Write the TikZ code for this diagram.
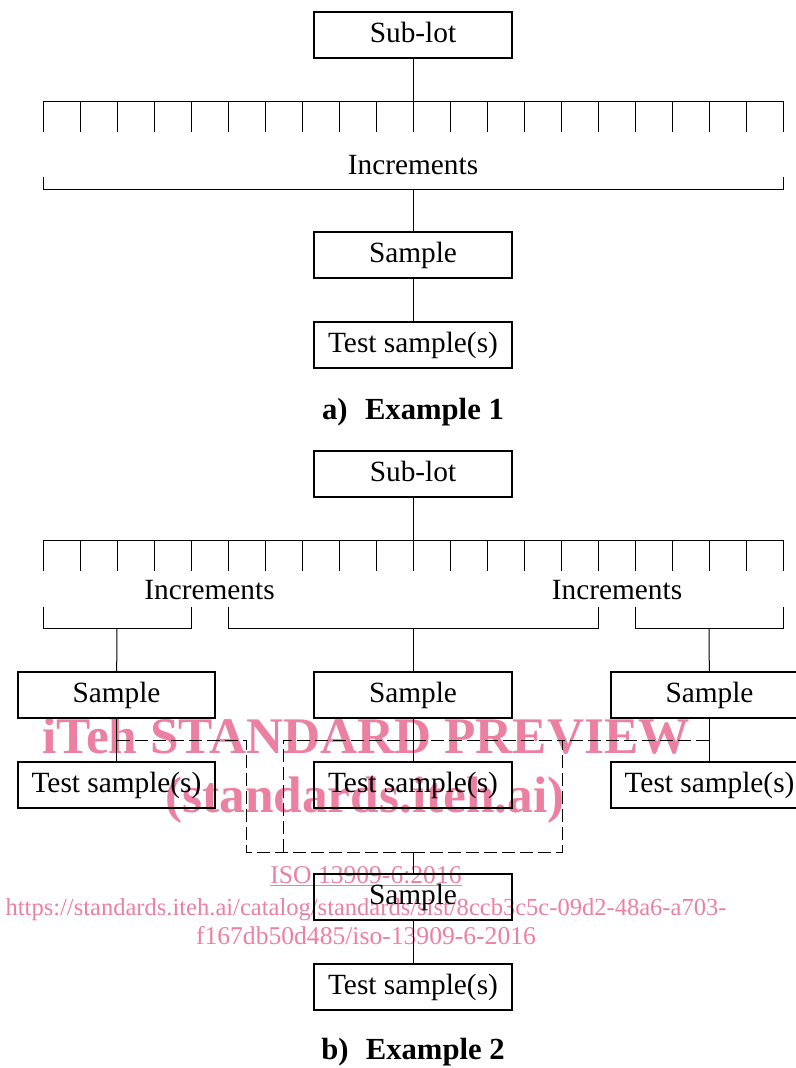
\documentclass[tikz,border=0pt]{standalone}
\usepackage{fontspec}
\setmainfont{Liberation Serif}
\usetikzlibrary{positioning}

\definecolor{wmpink}{RGB}{236,128,162}

\begin{document}
\begin{tikzpicture}[x=0.75pt,y=-0.75pt,line width=0.75pt,
                    font=\fontsize{22}{26}\selectfont]

  \tikzstyle{box}=[rectangle,draw,line width=1.5pt,inner sep=0pt,
                   minimum width=148pt,minimum height=34.5pt,
                   text height=15.5pt,text depth=4pt]
  \tikzstyle{caption}=[anchor=base,font=\fontsize{23}{27}\selectfont\bfseries]
  \tikzstyle{wmbig}=[anchor=base,text=wmpink,font=\fontsize{38.5}{40}\selectfont\bfseries]
  \tikzstyle{wmsmall}=[anchor=base,text=wmpink,font=\fontsize{19.2}{22}\selectfont]

  \useasboundingbox (0,0) rectangle (796,1068);

  % watermark
  \node[wmbig]   (wmA) at (366,753) {iTeh STANDARD PREVIEW};
  \node[wmbig]   (wmB) at (365,812) {(standards.iteh.ai)};
  \node[wmsmall] (wmC) at (366,883) {\underline{ISO 13909-6:2016}};
  \node[wmsmall,font=\fontsize{18.4}{22}\selectfont]
                 (wmD) at (366,915) {https://standards.iteh.ai/catalog/standards/sist/8ccb3c5c-09d2-48a6-a703-};
  \node[wmsmall] (wmE) at (366,944) {f167db50d485/iso-13909-6-2016};

  % a) Example 1
  \node[box] (sublotA) at (413,34.5) {Sub-lot};
  \node[box] (sampleA) at (413,255) {Sample};
  \node[box] (testA) [below=31.5pt of sampleA] {Test sample(s)};
  \node[caption] (capA) at (413,419) {a)\hspace{13pt}Example 1};

  \coordinate (barA) at (413,101);
  \coordinate (brA)  at (413,189);
  \draw (43,101) -- (783,101);
  \foreach \i in {0,...,20}
    \draw ({43+37*\i},101) -- ++(0,31);
  \node (incA) at (413,165) {Increments};
  \draw (43,177) -- (43,189) -- (783,189) -- (783,177);

  \draw (sublotA) -- (barA);
  \draw (brA) -- (sampleA);
  \draw (sampleA) -- (testA);

  % b) Example 2
  \node[box] (sublotB) at (413,473.5) {Sub-lot};
  \node[box] (sampleL) at (116.5,695) {Sample};
  \node[box] (sampleM) at (413,695) {Sample};
  \node[box] (sampleR) at (709.5,695) {Sample};
  \node[box] (testL) [below=31.5pt of sampleL] {Test sample(s)};
  \node[box] (testM) [below=31.5pt of sampleM] {Test sample(s)};
  \node[box] (testR) [below=31.5pt of sampleR] {Test sample(s)};
  \node[box] (sampleC) at (413,897) {Sample};
  \node[box] (testC) [below=31.5pt of sampleC] {Test sample(s)};
  \node[caption] (capB) at (413,1059) {b)\hspace{13pt}Example 2};

  \coordinate (barB) at (413,540);
  \draw (43,540) -- (783,540);
  \foreach \i in {0,...,20}
    \draw ({43+37*\i},540) -- ++(0,31);
  \node (incL) at (209.5,590) {Increments};
  \node (incR) at (617,590) {Increments};

  \coordinate (brL) at (117,628);
  \coordinate (brM) at (413,628);
  \coordinate (brR) at (709,628);
  \draw (43,607) -- (43,628) -- (191,628) -- (191,607);
  \draw (228,607) -- (228,628) -- (598,628) -- (598,607);
  \draw (635,607) -- (635,628) -- (783,628) -- (783,607);

  \draw (sublotB) -- (barB);
  \draw (brL) -- (sampleL);
  \draw (brM) -- (sampleM);
  \draw (brR) -- (sampleR);
  \draw (sampleL) -- (testL);
  \draw (sampleM) -- (testM);
  \draw (sampleR) -- (testR);

  % composite sample
  \coordinate (jL) at (117,740);
  \coordinate (jM) at (413,740);
  \coordinate (jR) at (709,740);
  \coordinate (mrg) at (413,852);
  \begin{scope}[dash pattern=on 9.5pt off 4pt]
    \draw (jL) -- (246,740) -- (246,852) -- (mrg);
    \draw (283,852) -- (283,740) -- (jM);
    \draw (jR) -- (562,740) -- (562,852) -- (mrg);
    \draw (jM) -- (562,740);
  \end{scope}
  \draw (mrg) -- (sampleC);
  \draw (sampleC) -- (testC);
\end{tikzpicture}
\end{document}
